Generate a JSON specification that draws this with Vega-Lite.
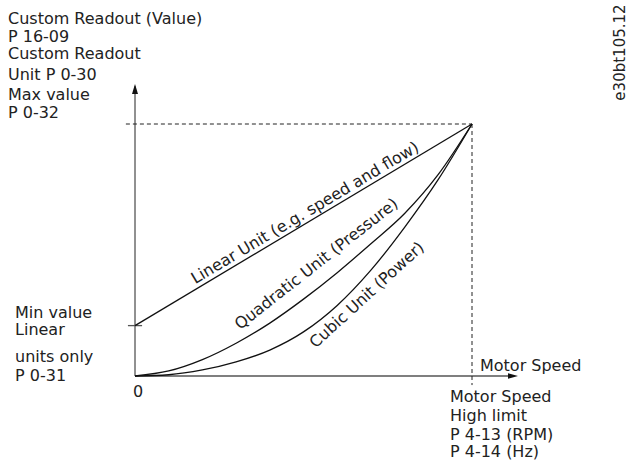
{
  "$schema": "https://vega.github.io/schema/vega-lite/v6.json",
  "width": 631,
  "height": 461,
  "autosize": {"type": "fit", "contains": "padding"},
  "padding": 0,
  "background": "white",
  "config": {
    "view": {"stroke": null},
    "text": {"font": "DejaVu Sans", "fontSize": 16, "color": "#222"}
  },
  "datasets": {
    "curves": [
      {"series": "linear", "x": 0, "y": 0.2},
      {"series": "linear", "x": 1, "y": 1},
      {"series": "quadratic", "x": 0, "y": 0},
      {"series": "quadratic", "x": 0.1, "y": 0.02},
      {"series": "quadratic", "x": 0.2, "y": 0.065},
      {"series": "quadratic", "x": 0.3, "y": 0.13},
      {"series": "quadratic", "x": 0.4, "y": 0.21},
      {"series": "quadratic", "x": 0.5, "y": 0.305},
      {"series": "quadratic", "x": 0.6, "y": 0.41},
      {"series": "quadratic", "x": 0.7, "y": 0.525},
      {"series": "quadratic", "x": 0.8, "y": 0.645},
      {"series": "quadratic", "x": 0.9, "y": 0.8},
      {"series": "quadratic", "x": 1, "y": 1},
      {"series": "cubic", "x": 0, "y": 0},
      {"series": "cubic", "x": 0.1, "y": 0.005},
      {"series": "cubic", "x": 0.2, "y": 0.024},
      {"series": "cubic", "x": 0.3, "y": 0.056},
      {"series": "cubic", "x": 0.4, "y": 0.103},
      {"series": "cubic", "x": 0.5, "y": 0.175},
      {"series": "cubic", "x": 0.6, "y": 0.28},
      {"series": "cubic", "x": 0.7, "y": 0.42},
      {"series": "cubic", "x": 0.8, "y": 0.59},
      {"series": "cubic", "x": 0.9, "y": 0.78},
      {"series": "cubic", "x": 1, "y": 1}
    ],
    "axes": [
      {"x": 0, "y": 0, "x2": 0, "y2": 1.15},
      {"x": 0, "y": 0, "x2": 1.12, "y2": 0},
      {"x": -0.021, "y": 0.2, "x2": 0.021, "y2": 0.2}
    ],
    "guides": [
      {"x": -0.027, "y": 1, "x2": 1, "y2": 1},
      {"x": 1, "y": 1, "x2": 1, "y2": -0.036}
    ],
    "arrows": [
      {"dir": "up", "x": 0, "y": 1.139},
      {"dir": "right", "x": 1.1217, "y": 0}
    ],
    "labels": [
      {"text": "Custom Readout (Value)", "x": -0.3769, "y": 1.3988},
      {"text": "P 16-09", "x": -0.3769, "y": 1.3274},
      {"text": "Custom Readout", "x": -0.3769, "y": 1.2579},
      {"text": "Unit P 0-30", "x": -0.3769, "y": 1.1766},
      {"text": "Max value", "x": -0.3769, "y": 1.0972},
      {"text": "P 0-32", "x": -0.3769, "y": 1.0258},
      {"text": "Min value", "x": -0.356, "y": 0.232},
      {"text": "Linear", "x": -0.356, "y": 0.161},
      {"text": "units only", "x": -0.356, "y": 0.0575},
      {"text": "P 0-31", "x": -0.356, "y": -0.0198},
      {"text": "Motor Speed", "x": 1.0237, "y": 0.018},
      {"text": "Motor Speed", "x": 0.9347, "y": -0.1032},
      {"text": "High limit", "x": 0.9347, "y": -0.1766},
      {"text": "P 4-13 (RPM)", "x": 0.9347, "y": -0.252},
      {"text": "P 4-14 (Hz)", "x": 0.9347, "y": -0.3214}
    ],
    "zero": [{"text": "0", "x": 0.009, "y": -0.083}],
    "curveLabels": [
      {"series": "linear", "text": "Linear Unit (e.g. speed and flow)", "x": 0.5045, "y": 0.6468},
      {"series": "quadratic", "text": "Quadratic Unit (Pressure)", "x": 0.5386, "y": 0.4444},
      {"series": "cubic", "text": "Cubic Unit (Power)", "x": 0.6884, "y": 0.3214}
    ],
    "code": [{"text": "e30bt105.12", "x": 1.4377, "y": 1.2837}]
  },
  "encoding": {
    "x": {"field": "x", "type": "quantitative", "scale": {"domain": [-0.4006, 1.4718], "nice": false, "zero": false}, "axis": null},
    "y": {"field": "y", "type": "quantitative", "scale": {"domain": [-0.3373, 1.4921], "nice": false, "zero": false}, "axis": null}
  },
  "layer": [
    {
      "data": {"name": "axes"},
      "mark": {"type": "rule", "color": "#555", "strokeWidth": 1.3},
      "encoding": {"x2": {"field": "x2"}, "y2": {"field": "y2"}}
    },
    {
      "data": {"name": "guides"},
      "mark": {"type": "rule", "color": "#222", "strokeWidth": 1, "strokeDash": [4, 3]},
      "encoding": {"x2": {"field": "x2"}, "y2": {"field": "y2"}}
    },
    {
      "data": {"name": "curves"},
      "mark": {"type": "line", "color": "#111", "strokeWidth": 1.3, "interpolate": "monotone"},
      "encoding": {"detail": {"field": "series"}}
    },
    {
      "data": {"name": "arrows"},
      "transform": [{"filter": "datum.dir === 'up'"}],
      "mark": {"type": "point", "filled": true, "color": "#111", "opacity": 1, "shape": "M0,-1L0.6,1L-0.6,1Z", "size": 100}
    },
    {
      "data": {"name": "arrows"},
      "transform": [{"filter": "datum.dir === 'right'"}],
      "mark": {"type": "point", "filled": true, "color": "#111", "opacity": 1, "shape": "M1,0L-1,-0.55L-1,0.55Z", "size": 100}
    },
    {
      "data": {"name": "labels"},
      "mark": {"type": "text", "align": "left", "baseline": "alphabetic"},
      "encoding": {"text": {"field": "text"}}
    },
    {
      "data": {"name": "zero"},
      "mark": {"type": "text", "align": "center", "baseline": "alphabetic"},
      "encoding": {"text": {"field": "text"}}
    },
    {
      "data": {"name": "curveLabels"},
      "transform": [{"filter": "datum.series === 'linear'"}],
      "mark": {"type": "text", "align": "center", "baseline": "middle", "angle": -30.8},
      "encoding": {"text": {"field": "text"}}
    },
    {
      "data": {"name": "curveLabels"},
      "transform": [{"filter": "datum.series === 'quadratic'"}],
      "mark": {"type": "text", "align": "center", "baseline": "middle", "angle": -38},
      "encoding": {"text": {"field": "text"}}
    },
    {
      "data": {"name": "curveLabels"},
      "transform": [{"filter": "datum.series === 'cubic'"}],
      "mark": {"type": "text", "align": "center", "baseline": "middle", "angle": -42.4},
      "encoding": {"text": {"field": "text"}}
    },
    {
      "data": {"name": "code"},
      "mark": {"type": "text", "align": "center", "baseline": "middle", "angle": 270, "fontSize": 15},
      "encoding": {"text": {"field": "text"}}
    }
  ]
}
